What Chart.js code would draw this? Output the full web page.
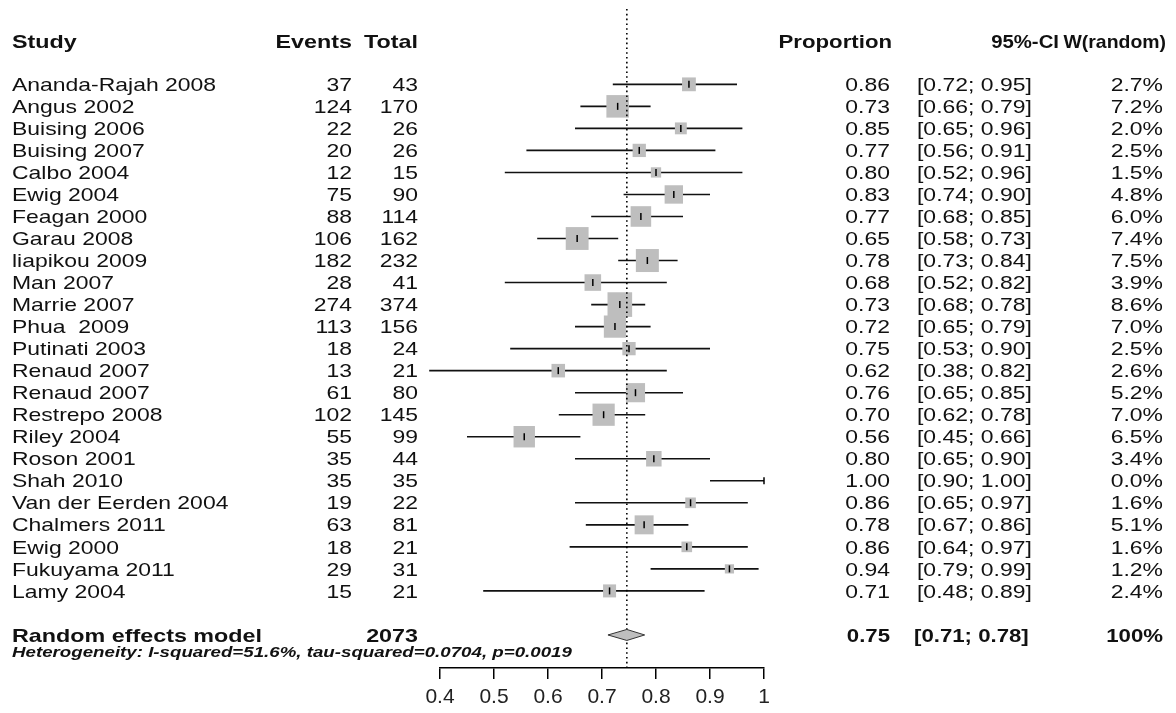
<!DOCTYPE html>
<html><head><meta charset="utf-8">
<script src="https://cdn.jsdelivr.net/npm/chart.js@4/dist/chart.umd.min.js"></script>
<style>html,body{margin:0;padding:0;background:#fff}#wrap{width:1176px;height:713px;position:relative}</style>
</head><body><div id="wrap"><canvas id="c"></canvas></div>
<script>
const studies = ['Ananda-Rajah 2008','Angus 2002','Buising 2006','Buising 2007','Calbo 2004','Ewig 2004','Feagan 2000','Garau 2008','liapikou 2009','Man 2007','Marrie 2007','Phua  2009','Putinati 2003','Renaud 2007','Renaud 2007','Restrepo 2008','Riley 2004','Roson 2001','Shah 2010','Van der Eerden 2004','Chalmers 2011','Ewig 2000','Fukuyama 2011','Lamy 2004'];
const events = [37,124,22,20,12,75,88,106,182,28,274,113,18,13,61,102,55,35,35,19,63,18,29,15];
const totals = [43,170,26,26,15,90,114,162,232,41,374,156,24,21,80,145,99,44,35,22,81,21,31,21];
const proportions = [0.861,0.729,0.846,0.769,0.800,0.833,0.772,0.654,0.784,0.683,0.733,0.724,0.750,0.619,0.762,0.703,0.556,0.796,1.000,0.864,0.778,0.857,0.936,0.714];
const lowerCI = [0.72,0.66,0.65,0.56,0.52,0.74,0.68,0.58,0.73,0.52,0.68,0.65,0.53,0.38,0.65,0.62,0.45,0.65,0.90,0.65,0.67,0.64,0.79,0.48];
const upperCI = [0.95,0.79,0.96,0.91,0.96,0.90,0.85,0.73,0.84,0.82,0.78,0.79,0.90,0.82,0.85,0.78,0.66,0.90,1.00,0.97,0.86,0.97,0.99,0.89];
const weights = [2.7,7.2,2.0,2.5,1.5,4.8,6.0,7.4,7.5,3.9,8.6,7.0,2.5,2.6,5.2,7.0,6.5,3.4,0.0,1.6,5.1,1.6,1.2,2.4];
const pooledLabel = 'Random effects model';
const pooledTotal = 2073;
const pooledEst = 0.746, pooledLo = 0.711, pooledHi = 0.779;
const pooledText = ['0.75','[0.71; 0.78]','100%'];
const heterogeneity = 'Heterogeneity: I-squared=51.6%, tau-squared=0.0704, p=0.0019';
const headers = ['Study','Events','Total','Proportion','95%-CI','W(random)'];
const xTicks = [0.4,0.5,0.6,0.7,0.8,0.9,1.0];
const xTickLabels = ['0.4','0.5','0.6','0.7','0.8','0.9','1'];

const FAM = '"Liberation Sans", Arial, Helvetica, sans-serif';
const BOX_K = 8.4;
const ROW_HEADER = -1.95, ROW_POOLED = 25, ROW_HET = 25.75;

function txt(ctx, s, x, y, o) {
  const size = o.size || 18.5, sx = o.sx || 1.24;
  ctx.save();
  ctx.font = (o.style || '') + ' ' + (o.weight || 'normal') + ' ' + size + 'px ' + FAM;
  ctx.fillStyle = o.color || '#111';
  ctx.textBaseline = 'alphabetic';
  const w = ctx.measureText(s).width * sx;
  let left = x;
  if (o.align === 'right') left = x - w;
  else if (o.align === 'center') left = x - w / 2;
  ctx.translate(left, y + size * 0.36);
  ctx.scale(sx, 1);
  ctx.fillText(s, 0, 0);
  ctx.restore();
}

const forest = {
  id: 'forest',
  beforeDatasetsDraw(chart) {
    const ctx = chart.ctx, xs = chart.scales.x, ys = chart.scales.y;
    ctx.save();
    ctx.strokeStyle = '#111';
    ctx.lineWidth = 1.6;
    for (let i = 0; i < studies.length; i++) {
      const y = ys.getPixelForValue(i);
      ctx.beginPath();
      ctx.moveTo(xs.getPixelForValue(lowerCI[i]), y);
      ctx.lineTo(xs.getPixelForValue(upperCI[i]), y);
      ctx.stroke();
    }
    ctx.restore();
  },
  afterDatasetsDraw(chart) {
    const ctx = chart.ctx, xs = chart.scales.x, ys = chart.scales.y, ca = chart.chartArea;
    ctx.save();
    ctx.strokeStyle = '#000';
    ctx.lineWidth = 1.5;
    for (let i = 0; i < studies.length; i++) {
      const y = ys.getPixelForValue(i), x = xs.getPixelForValue(proportions[i]);
      ctx.beginPath(); ctx.moveTo(x, y - 3.5); ctx.lineTo(x, y + 3.5); ctx.stroke();
    }
    const px = xs.getPixelForValue(pooledEst);
    ctx.setLineDash([1.6, 3.2]);
    ctx.lineWidth = 1.6;
    ctx.beginPath(); ctx.moveTo(px, ca.top); ctx.lineTo(px, ca.bottom); ctx.stroke();
    ctx.setLineDash([]);
    const dy = ys.getPixelForValue(ROW_POOLED);
    ctx.beginPath();
    ctx.moveTo(xs.getPixelForValue(pooledLo), dy);
    ctx.lineTo(px, dy - 5.5);
    ctx.lineTo(xs.getPixelForValue(pooledHi), dy);
    ctx.lineTo(px, dy + 5.5);
    ctx.closePath();
    ctx.fillStyle = '#bebebe'; ctx.fill();
    ctx.strokeStyle = '#333'; ctx.lineWidth = 1; ctx.stroke();
    ctx.restore();

    const hy = ys.getPixelForValue(ROW_HEADER);
    const H = {weight: 'bold', sx: 1.26};
    txt(ctx, headers[0], 12, hy, H);
    txt(ctx, headers[1], 352, hy, {...H, align: 'right'});
    txt(ctx, headers[2], 418, hy, {...H, align: 'right'});
    txt(ctx, headers[3], 892, hy, {...H, sx: 1.2, align: 'right'});
    txt(ctx, headers[4], 1059, hy, {...H, sx: 1.1, align: 'right'});
    txt(ctx, headers[5], 1166, hy, {...H, sx: 1.05, align: 'right'});
    for (let i = 0; i < studies.length; i++) {
      const y = ys.getPixelForValue(i);
      txt(ctx, studies[i], 12, y, {});
      txt(ctx, String(events[i]), 352, y, {align: 'right'});
      txt(ctx, String(totals[i]), 418, y, {align: 'right'});
      txt(ctx, proportions[i].toFixed(2), 890, y, {align: 'right'});
      txt(ctx, '[' + lowerCI[i].toFixed(2) + '; ' + upperCI[i].toFixed(2) + ']', 917, y, {});
      txt(ctx, weights[i].toFixed(1) + '%', 1163, y, {align: 'right'});
    }
    const B = {weight: 'bold', sx: 1.26};
    const py = ys.getPixelForValue(ROW_POOLED);
    txt(ctx, pooledLabel, 12, py, B);
    txt(ctx, String(pooledTotal), 418, py, {...B, align: 'right'});
    txt(ctx, pooledText[0], 890, py, {...B, sx: 1.2, align: 'right'});
    txt(ctx, pooledText[1], 914, py, {...B, sx: 1.2});
    txt(ctx, pooledText[2], 1163, py, {...B, sx: 1.2, align: 'right'});
    txt(ctx, heterogeneity, 12, ys.getPixelForValue(ROW_HET), {weight: 'bold', style: 'italic', size: 14.5, sx: 1.29});
  }
};

new Chart(document.getElementById('c'), {
  type: 'scatter',
  data: {
    datasets: [{
      data: proportions.map((p, i) => ({x: p, y: i})),
      pointStyle: 'rect',
      pointRadius: weights.map(w => BOX_K * Math.sqrt(w) / Math.SQRT2),
      pointHoverRadius: weights.map(w => BOX_K * Math.sqrt(w) / Math.SQRT2),
      backgroundColor: '#bebebe',
      borderWidth: 0,
      showLine: false
    }]
  },
  options: {
    responsive: true,
    maintainAspectRatio: false,
    animation: false,
    events: [],
    layout: {autoPadding: false, padding: {left: 440, right: 412, top: 9, bottom: 0}},
    plugins: {legend: {display: false}, tooltip: {enabled: false}},
    scales: {
      x: {
        type: 'linear', min: 0.4, max: 1.0,
        afterBuildTicks: s => { s.ticks = xTicks.map(v => ({value: v})); },
        afterFit: s => { s.height = 45; },
        ticks: {callback: (v, i) => xTickLabels[i], font: {size: 21, family: FAM}, color: '#222', padding: 6, maxRotation: 0, autoSkip: false},
        grid: {drawOnChartArea: false, drawTicks: true, tickLength: 11, color: '#000', lineWidth: 1.5},
        border: {display: true, color: '#000', width: 1.5}
      },
      y: {type: 'linear', reverse: true, min: -3.42, max: 26.5, display: false}
    }
  },
  plugins: [forest]
});
</script>
</body></html>
